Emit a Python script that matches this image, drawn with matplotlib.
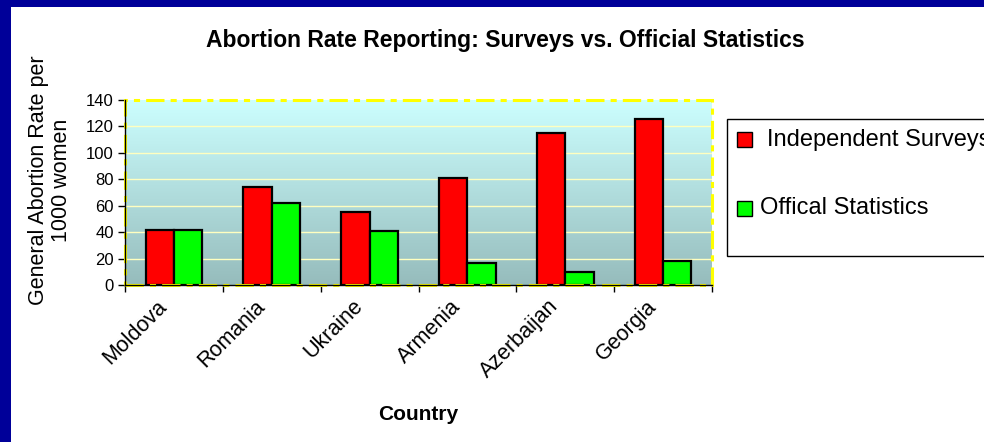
import numpy as np
import matplotlib
matplotlib.use("Agg")
import matplotlib.pyplot as plt
import matplotlib.transforms as mtransforms
from matplotlib.patches import Rectangle
from matplotlib.colors import LinearSegmentedColormap

countries = ["Moldova", "Romania", "Ukraine", "Armenia", "Azerbaijan", "Georgia"]
independent_surveys = [42, 74, 55, 81, 115, 125]
official_statistics = [42, 62, 41, 17, 10, 18]
series_names = ["Independent Surveys", "Offical Statistics"]
series_colors = ["#FF0000", "#00FF00"]
y_ticks = [0, 20, 40, 60, 80, 100, 120, 140]

W, H = 984, 442
plt.rcParams['font.family'] = ['Liberation Sans', 'DejaVu Sans']
fig = plt.figure(figsize=(W / 100, H / 100), dpi=100)
fig.patch.set_facecolor("white")

def fx(px):
    return px / W

def fy(py):
    return 1 - py / H

# blue frame
fig.patches.append(Rectangle((0, 0), fx(11), 1, transform=fig.transFigure,
                             facecolor="#000099", edgecolor="none", zorder=0))
fig.patches.append(Rectangle((0, fy(7)), 1, 1 - fy(7), transform=fig.transFigure,
                             facecolor="#000099", edgecolor="none", zorder=0))

ax_l, ax_r, ax_t, ax_b = 125, 712, 99.5, 285.3
ax = fig.add_axes([fx(ax_l), fy(ax_b), fx(ax_r - ax_l), (ax_b - ax_t) / H])

n = len(countries)
x = np.arange(n)
bw = 0.29
ax.set_xlim(-0.5, n - 0.5)
ax.set_ylim(0, 140)

# gradient background
cmap = LinearSegmentedColormap.from_list("bg", ["#96BCBC", "#CCFFFF"])
grad = np.linspace(0, 1, 256).reshape(-1, 1)
ax.imshow(grad, cmap=cmap, aspect="auto", origin="lower",
          extent=(-0.5, n - 0.5, 0, 140), zorder=0)

for yv in y_ticks[1:-1]:
    ax.axhline(yv, color="#FFFFC0", lw=1, zorder=1)

ax.bar(x - bw / 2, independent_surveys, bw, color=series_colors[0],
       edgecolor="black", linewidth=1.6, zorder=3)
ax.bar(x + bw / 2, official_statistics, bw, color=series_colors[1],
       edgecolor="black", linewidth=1.6, zorder=3)

# dashed yellow border of plot area
ax.add_patch(Rectangle((0, 0), 1, 1, transform=ax.transAxes, fill=False,
                       edgecolor="#FFFF00", linewidth=2.2,
                       linestyle=(0, (6, 2, 2, 2)), clip_on=False, zorder=4))

for s in ["top", "right"]:
    ax.spines[s].set_visible(False)
for s in ["left", "bottom"]:
    ax.spines[s].set_color("black")
    ax.spines[s].set_linewidth(1)
    ax.spines[s].set_zorder(5)

ax.set_yticks(y_ticks)
ax.set_yticklabels([str(v) for v in y_ticks], fontsize=12)
ax.tick_params(axis="y", direction="out", length=5, width=1, pad=3)

ax.set_xticks(x)
ax.set_xticklabels(countries, fontsize=15.5, rotation=45, ha="right",
                   va="center", rotation_mode="anchor")
ax.tick_params(axis="x", which="major", length=0, pad=13)
shift = mtransforms.ScaledTranslation(-10 / 100, 0, fig.dpi_scale_trans)
for lbl in ax.get_xticklabels():
    lbl.set_transform(lbl.get_transform() + shift)
ax.set_xticks(np.arange(-0.5, n, 1.0), minor=True)
ax.tick_params(axis="x", which="minor", direction="out", length=5, width=1)

fig.text(fx(505), fy(40), "Abortion Rate Reporting: Surveys vs. Official Statistics",
         ha="center", va="center", fontsize=16.5, fontweight="bold")
fig.text(fx(418), fy(415), "Country", ha="center", va="center",
         fontsize=15, fontweight="bold")
fig.text(fx(50), fy(180), "General Abortion Rate per\n1000 women", ha="center",
         va="center", rotation=90, fontsize=15.5, multialignment="center",
         linespacing=1.15)

# legend
fig.patches.append(Rectangle((fx(726.7), fy(255.7)), fx(400), (255.7 - 119.3) / H,
                             transform=fig.transFigure, facecolor="white",
                             edgecolor="black", linewidth=1, zorder=1))
leg_rows = [140, 208]
text_x = [766.7, 760]
for i, name in enumerate(series_names):
    cy = leg_rows[i]
    fig.patches.append(Rectangle((fx(737), fy(cy + 7.5)), fx(15), 15 / H,
                                 transform=fig.transFigure,
                                 facecolor=series_colors[i], edgecolor="black",
                                 linewidth=1, zorder=2))
    fig.text(fx(text_x[i]), fy(cy), name, ha="left", va="center", fontsize=17,
             zorder=3)

fig.savefig("out.png", dpi=100, facecolor="white")
